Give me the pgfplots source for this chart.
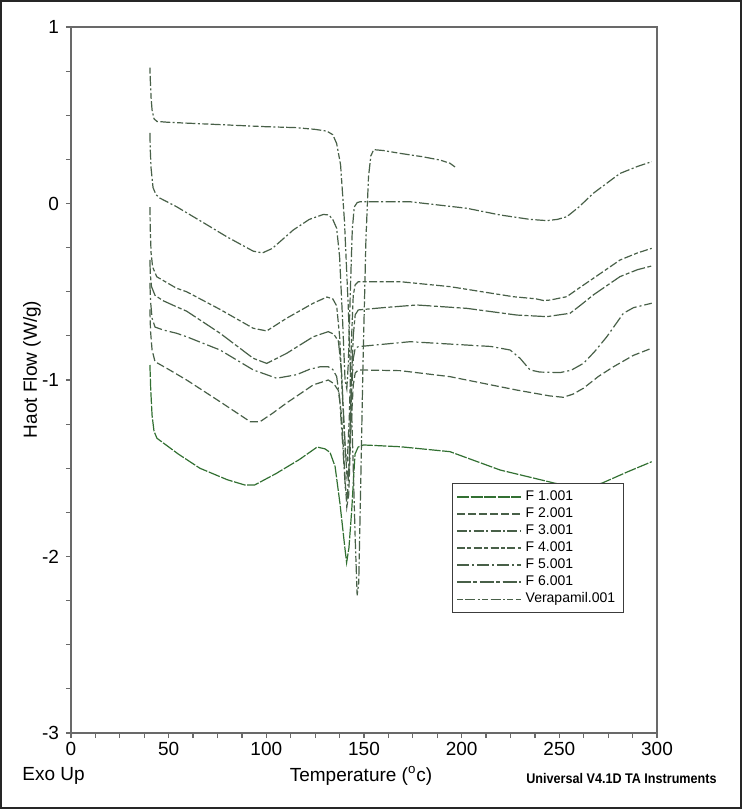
\documentclass[border=0pt]{standalone}
\usepackage{fontspec}
\setmainfont{Liberation Sans}
\usepackage{pgfplots}
\pgfplotsset{compat=1.18}

\definecolor{axisgray}{RGB}{105,105,105}
\definecolor{curvegray}{RGB}{72,96,72}
\definecolor{curvegreen}{RGB}{50,112,50}
\definecolor{leggray}{RGB}{60,60,60}

\begin{document}
\begin{tikzpicture}
\begin{axis}[
 scale only axis, width=293pt, height=353pt,
 xmin=0, xmax=300, ymin=-3, ymax=1,
 xtick={0,50,...,300}, ytick={-3,-2,-1,0,1},
 minor x tick num=3, minor y tick num=3,
 tick align=outside, xtick pos=left, ytick pos=left,
 major tick length=2.5pt, minor tick length=2.5pt,
 axis line style={draw=axisgray, line width=0.8pt},
 every tick/.style={draw=axisgray, line width=0.6pt},
 /pgf/number format/assume math mode=true,
 tick label style={font=\fontsize{9.5}{11}\selectfont},
 xticklabel style={yshift=1.5pt},
 label style={font=\fontsize{9.5}{11}\selectfont},
 xlabel={Temperature (\textsuperscript{o}c)},
 xlabel style={at={(rel axis cs:0.495,0)}, anchor=center, yshift=-21.5pt},
 ylabel={Haot Flow (W/g)},
 ylabel style={at={(rel axis cs:0,0.515)}, anchor=center, yshift=19.5pt},
 legend style={at={(rel axis cs:0.65,0.354)}, anchor=north west,
   draw=leggray, fill=white, line width=0.6pt,
   font=\fontsize{7}{8}\selectfont, row sep=-1.9pt,
   inner xsep=2pt, inner ysep=1.5pt, cells={anchor=west}},
 legend image code/.code={\draw[#1, draw=leggray, line width=0.6pt] (0pt,0pt) -- (28pt,0pt);
   \path (0pt,0pt) -- (32pt,0pt);},
]
% F 1.001
\addplot[curvegreen, line width=0.6pt, dash pattern=on 6pt off 0.8pt] coordinates {
 (40.4,-0.915) (40.8,-1.05) (41.5,-1.2) (42.5,-1.29) (44,-1.33) (55,-1.42) (66,-1.50)
 (80,-1.565) (89,-1.595) (94,-1.595) (105,-1.53) (117,-1.45) (126,-1.38) (130,-1.39)
 (132.6,-1.41) (135.2,-1.49) (137.7,-1.70) (140.3,-1.96) (141.1,-2.035) (142.3,-1.95)
 (143.7,-1.74) (144.7,-1.55) (145.4,-1.42) (147,-1.38) (149.7,-1.368) (168.5,-1.378)
 (194,-1.406) (219.7,-1.51) (247.8,-1.585) (260,-1.61) (271.7,-1.585) (285,-1.52) (297.3,-1.463)
}; \addlegendentry{F 1.001}
% F 2.001
\addplot[curvegray, line width=0.6pt, dash pattern=on 4pt off 1.5pt] coordinates {
 (40.4,-0.60) (40.7,-0.72) (41.5,-0.83) (43,-0.896) (50,-0.94) (59.2,-1.0) (76.3,-1.123)
 (91.7,-1.236) (96.8,-1.236) (103,-1.19) (110.4,-1.13) (124,-1.028) (131.7,-1.0)
 (134.5,-1.02) (136.9,-1.06) (138.5,-1.2) (140,-1.5) (141.2,-1.72) (142.2,-1.65)
 (143.2,-1.3) (144.5,-1.03) (145.5,-0.96) (147.1,-0.943) (168.5,-0.947) (194,-0.981)
 (228.2,-1.057) (245,-1.09) (252.1,-1.098) (257,-1.08) (262.3,-1.047) (270,-0.98)
 (277.7,-0.925) (288,-0.86) (297.3,-0.82)
}; \addlegendentry{F 2.001}
% F 3.001
\addplot[curvegray, line width=0.6pt, dash pattern=on 5pt off 1.2pt on 1pt off 1.2pt] coordinates {
 (40.4,0.40) (40.6,0.30) (41,0.2) (42,0.09) (43.5,0.05) (45.6,0.03) (54,-0.018) (69.5,-0.12)
 (80,-0.19) (93.3,-0.27) (98,-0.28) (103,-0.255) (113.8,-0.15) (122,-0.09) (129.2,-0.062)
 (132,-0.065) (134,-0.09) (136,-0.14) (137.5,-0.3) (139,-0.65) (140.3,-1.0) (141.2,-1.05)
 (142,-0.9) (143,-0.5) (144,-0.15) (145,-0.02) (146.5,0.005) (148,0.01) (173.6,0.01)
 (202.6,-0.027) (219.7,-0.065) (235,-0.09) (243.6,-0.097) (249,-0.09) (253.8,-0.075)
 (260,-0.02) (267.4,0.058) (281,0.17) (290,0.21) (297.3,0.237)
}; \addlegendentry{F 3.001}
% F 4.001
\addplot[curvegray, line width=0.6pt, dash pattern=on 4pt off 1.2pt on 2pt off 1.2pt] coordinates {
 (40.4,-0.02) (40.6,-0.15) (41,-0.28) (41.8,-0.36) (43.9,-0.415) (54,-0.48) (59.2,-0.50)
 (76.3,-0.60) (93.3,-0.707) (100.2,-0.722) (110.4,-0.65) (124,-0.565) (131,-0.53)
 (134,-0.54) (136,-0.58) (137.5,-0.75) (139,-1.1) (140.5,-1.42) (141.5,-1.45) (142.5,-1.2)
 (143.5,-0.8) (144.5,-0.52) (145.5,-0.46) (147.1,-0.443) (168.5,-0.443) (194,-0.471)
 (226.4,-0.528) (238,-0.54) (242,-0.55) (245.3,-0.547) (253.8,-0.528) (260,-0.48)
 (267.4,-0.424) (281.1,-0.32) (290,-0.28) (297.3,-0.254)
}; \addlegendentry{F 4.001}
% F 5.001
\addplot[curvegray, line width=0.6pt, dash pattern=on 6pt off 1.5pt on 1pt off 1.5pt] coordinates {
 (40.4,-0.45) (40.7,-0.55) (41.5,-0.65) (43,-0.70) (47.3,-0.717) (54,-0.735) (59.2,-0.755)
 (76.3,-0.83) (93.3,-0.943) (105.3,-0.99) (115.5,-0.97) (122,-0.94) (127.5,-0.925)
 (131.7,-0.925) (134,-0.94) (136,-0.98) (137.5,-1.1) (139,-1.35) (140.5,-1.62) (141.5,-1.66)
 (142.5,-1.45) (143.5,-1.1) (144.5,-0.88) (145.5,-0.82) (147.1,-0.811) (173.6,-0.783)
 (202.6,-0.802) (215,-0.81) (224.8,-0.830) (229.9,-0.877) (235,-0.943) (240,-0.955)
 (250.4,-0.958) (256,-0.945) (262.3,-0.906) (268,-0.84) (274.3,-0.755) (282.8,-0.622)
 (288,-0.59) (297.3,-0.565)
}; \addlegendentry{F 5.001}
% F 6.001
\addplot[curvegray, line width=0.6pt, dash pattern=on 7pt off 1.2pt on 2pt off 1.2pt] coordinates {
 (40.4,-0.32) (40.6,-0.40) (41.2,-0.47) (43,-0.52) (47,-0.55) (54,-0.585) (59.2,-0.61)
 (76.3,-0.735) (93.3,-0.877) (100.2,-0.906) (110.4,-0.849) (124,-0.755) (131.7,-0.726)
 (134.5,-0.74) (136.9,-0.78) (138.5,-0.95) (140,-1.3) (141.3,-1.55) (142.3,-1.5)
 (143.3,-1.1) (144.5,-0.75) (145.5,-0.63) (147.1,-0.603) (160,-0.59) (177,-0.575)
 (202.6,-0.594) (228.2,-0.632) (243.6,-0.641) (255.5,-0.622) (261,-0.575) (267.4,-0.518)
 (281.1,-0.414) (290,-0.375) (297.3,-0.354)
}; \addlegendentry{F 6.001}
% Verapamil.001
\addplot[curvegray, line width=0.6pt, dash pattern=on 3pt off 1.2pt on 5pt off 1.2pt on 1pt off 1.2pt] coordinates {
 (40.4,0.77) (40.6,0.70) (41,0.60) (41.5,0.53) (42.5,0.48) (44,0.465) (50,0.46) (60,0.455)
 (80,0.445) (100,0.435) (115,0.43) (125,0.42) (131,0.41) (134,0.39) (136,0.34) (138,0.22)
 (140,-0.1) (142,-0.6) (144,-1.3) (145.5,-1.9) (146.5,-2.22) (147.3,-2.15) (148.3,-1.6)
 (149.5,-0.9) (151,-0.2) (152.3,0.15) (153.5,0.27) (155,0.305) (160,0.3) (168.5,0.284)
 (180,0.265) (189,0.246) (194,0.228) (196.6,0.207)
}; \addlegendentry{Verapamil.001}
\end{axis}
\node[anchor=west, inner sep=0pt, font=\fontsize{9.5}{11}\selectfont] at (-24.5pt,-21.5pt) {Exo Up};
\node[anchor=east, inner sep=0pt, font=\fontsize{7}{8}\selectfont\bfseries] at (323pt,-22.5pt) {\scalebox{0.9}[1]{Universal V4.1D TA Instruments}};
\draw[line width=1pt, black!85] (-35pt,-37.5pt) rectangle (335pt,366pt);
\end{tikzpicture}
\end{document}
